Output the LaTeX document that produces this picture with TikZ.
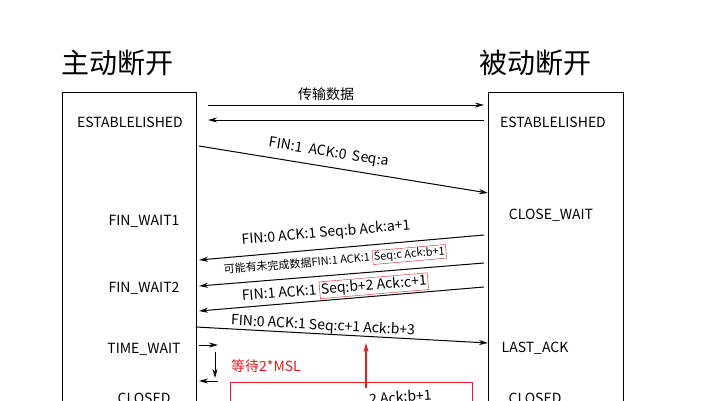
\documentclass[tikz,border=0pt]{standalone}
\usepackage{fontspec}
\setmainfont{Noto Sans CJK SC}
\usetikzlibrary{arrows.meta}
\definecolor{myred}{RGB}{220,30,30}
\begin{document}
\begin{tikzpicture}[x=1pt,y=-1pt,
  lab/.style={font=\fontsize{14}{16}\selectfont,inner sep=1pt},
  st/.style={font=\fontsize{14}{16}\selectfont},
  ar/.style={-{Stealth[length=9pt,width=5pt]},line width=1pt},
  rar/.style={-{Stealth[length=9pt,width=5pt]},line width=1.1pt,myred}]
\useasboundingbox (0,0) rectangle (703,400);
\clip (0,0) rectangle (703,400);
\setlength{\fboxsep}{1pt}
\node[font=\fontsize{28}{32}\selectfont] (t1) at (117,63) {主动断开};
\node[font=\fontsize{28}{32}\selectfont] (t2) at (535,63) {被动断开};
\draw[line width=0.8pt] (62,420) -- (62,92) -- (196,92) -- (196,420);
\draw[line width=0.8pt] (488,420) -- (488,92) -- (623,92) -- (623,420);
\node[st] (le) at (130,122) {ESTABLELISHED};
\node[st] (re) at (553,122) {ESTABLELISHED};
\node[st] (fw1) at (144,221) {FIN\_WAIT1};
\node[st] (fw2) at (144,288) {FIN\_WAIT2};
\node[st] (tw) at (144,349) {TIME\_WAIT};
\node[st] (lc) at (144,398) {CLOSED};
\node[st] (cw) at (551,215) {CLOSE\_WAIT};
\node[st] (la) at (535,348) {LAST\_ACK};
\node[st] (rc) at (535,398) {CLOSED};
\node[lab] (d) at (326,94) {传输数据};
\coordinate (a1) at (208,105); \coordinate (a2) at (484,105);
\coordinate (b1) at (484,120); \coordinate (b2) at (208,120);
\draw[ar] (a1) -- (a2);
\draw[ar] (b1) -- (b2);
\coordinate (c1) at (199,146); \coordinate (c2) at (488,193);
\draw[ar] (c1) -- (c2);
\node[lab,rotate=-9.2] (cl) at (329,153) {FIN:1\ \ ACK:0\ \ Seq:a};
\coordinate (e1) at (484,235); \coordinate (e2) at (199,260);
\draw[ar] (e1) -- (e2);
\node[lab,rotate=5] (el) at (326,233) {FIN:0 ACK:1 Seq:b Ack:a+1};
\coordinate (f1) at (484,263); \coordinate (f2) at (199,286);
\draw[ar] (f1) -- (f2);
\node[lab,rotate=5,font=\fontsize{11}{13}\selectfont] (fl) at (335,261) {可能有未完成数据FIN:1 ACK:1 \fcolorbox{myred}{white}{Seq:c Ack:b+1}};
\coordinate (g1) at (484,287); \coordinate (g2) at (199,311);
\draw[ar] (g1) -- (g2);
\node[lab,rotate=4.8] (gl) at (335,289) {FIN:1 ACK:1 \fcolorbox{myred}{white}{Seq:b+2 Ack:c+1}};
\coordinate (h1) at (196,327); \coordinate (h2) at (488,343);
\draw[ar] (h1) -- (h2);
\node[lab,rotate=-3.1] (hl) at (323,326) {FIN:0 ACK:1 Seq:c+1 Ack:b+3};
\coordinate (i1) at (199,345); \coordinate (i2) at (218,345);
\draw[ar] (i1) -- (i2);
\coordinate (j1) at (215,352); \coordinate (j2) at (215,378);
\draw[ar] (j1) -- (j2);
\coordinate (k1) at (218,381); \coordinate (k2) at (199,381);
\draw[ar] (k1) -- (k2);
\node[lab,text=myred,font=\fontsize{14}{16}\selectfont] (w) at (266,366) {等待2*MSL};
\draw[myred,line width=1pt] (230,420) -- (230,382) -- (472,382) -- (472,420);
\node[lab,rotate=4,anchor=west] (rb) at (368,399) {2 Ack:b+1};
\coordinate (r1) at (366,388); \coordinate (r2) at (366,343);
\draw[rar] (r1) -- (r2);
\end{tikzpicture}
\end{document}
